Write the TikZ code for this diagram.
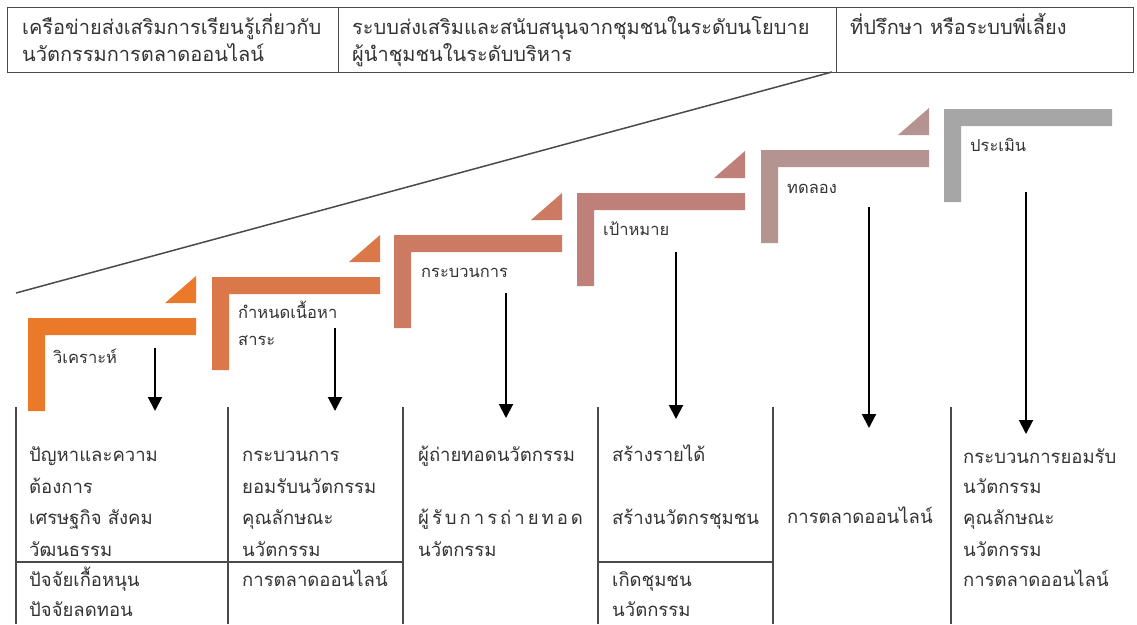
\documentclass[tikz,border=0pt]{standalone}
\usepackage{fontspec}
\newfontfamily\thai[Script=Thai]{Loma}
\usetikzlibrary{arrows.meta}
\definecolor{sA}{HTML}{EA7A2A}
\definecolor{sB}{HTML}{DB784A}
\definecolor{sC}{HTML}{CC7A62}
\definecolor{sD}{HTML}{BE8078}
\definecolor{sE}{HTML}{B59391}
\definecolor{sF}{HTML}{A6A6A6}
\definecolor{rule}{HTML}{4A4A4A}
\definecolor{ink}{HTML}{333333}
\newcommand{\Lstep}[3]{% left, top, colour
  \fill[#3] (#1,#2) -- ++(168,0) -- ++(0,17) -- ++(-151,0) -- ++(0,76) -- ++(-17,0) -- cycle;}
\newcommand{\Ltri}[3]{%
  \fill[#3] (#1+168,#2-15) -- ++(-31,0) -- ++(31,-27) -- cycle;}
\newcommand{\tsp}{\hspace{3.0pt}}
\begin{document}
\begin{tikzpicture}[x=1pt,y=-1pt,
  hcell/.style={draw=rule, line width=1.4pt, anchor=north west, inner sep=0pt},
  htext/.style={anchor=base west, inner sep=0pt, text=ink, font=\thai\fontsize{20}{27}\selectfont},
  slabel/.style={anchor=base west, inner sep=0pt, text=ink, font=\thai\fontsize{16.5}{27}\selectfont},
  ctext/.style={anchor=base west, inner sep=0pt, text=ink, font=\thai\fontsize{18.5}{31}\selectfont},
  arr/.style={line width=2pt, -{Triangle[width=14pt,length=14pt]}},
  col/.style={draw=rule, line width=1.3pt}]
\useasboundingbox[fill=white] (0,0) rectangle (1137,624);

% header
\node[hcell, minimum width=331pt, minimum height=65pt] (h1) at (7,7) {};
\node[hcell, minimum width=498pt, minimum height=65pt] (h2) at (338,7) {};
\node[hcell, minimum width=297pt, minimum height=65pt] (h3) at (836,7) {};
\node[htext] (t1a) at (22,34) {เครือข่ายส่งเสริมการเรียนรู้เกี่ยวกับ};
\node[htext] (t1b) at (22,61) {นวัตกรรมการตลาดออนไลน์};
\node[htext] (t2a) at (352,34) {ระบบส่งเสริมและสนับสนุนจากชุมชนในระดับนโยบาย};
\node[htext] (t2b) at (352,61) {ผู้นำชุมชนในระดับบริหาร};
\node[htext] (t3a) at (850,34) {ที่ปรึกษา หรือระบบพี่เลี้ยง};

% long diagonal line
\coordinate (d0) at (16,293);
\coordinate (d1) at (832,72);
\draw[draw=rule, line width=1.5pt] (d0) -- (d1);

% steps
\Ltri{28}{318}{sA}\Lstep{28}{318}{sA}
\Ltri{212}{277}{sB}\Lstep{212}{277}{sB}
\Ltri{394}{235}{sC}\Lstep{394}{235}{sC}
\Ltri{577}{193}{sD}\Lstep{577}{193}{sD}
\Ltri{761}{150}{sE}\Lstep{761}{150}{sE}
\Lstep{944}{109}{sF}

\node[slabel] (s1) at (53,363) {วิเคราะห์};
\node[slabel] (s2a) at (238,318) {กำหนดเนื้อหา};
\node[slabel] (s2b) at (238,345) {สาระ};
\node[slabel] (s3) at (421,277) {กระบวนการ};
\node[slabel] (s4) at (603,235) {เป้าหมาย};
\node[slabel] (s5) at (787,193) {ทดลอง};
\node[slabel] (s6) at (970,151) {ประเมิน};

% arrows
\coordinate (a1s) at (155,348); \coordinate (a1e) at (155,411);
\coordinate (a2s) at (335,328); \coordinate (a2e) at (335,411);
\coordinate (a3s) at (506,293); \coordinate (a3e) at (506,418);
\coordinate (a4s) at (676,252); \coordinate (a4e) at (676,419);
\coordinate (a5s) at (869,207); \coordinate (a5e) at (869,428);
\coordinate (a6s) at (1026,192); \coordinate (a6e) at (1026,434);
\foreach \i in {1,...,6} {\draw[arr] (a\i s) -- (a\i e);}

% columns
\foreach \x in {16,228,403,598,773,951} {\draw[col] (\x,407) -- (\x,624);}
\draw[col] (16,562) -- (403,562);
\draw[col] (598,562) -- (773,562);

% column texts
\node[ctext] (c1a) at (29,461) {ปัญหาและความ};
\node[ctext] (c1b) at (29,493) {ต้องการ};
\node[ctext] (c1c) at (29,524) {เศรษฐกิจ สังคม};
\node[ctext] (c1d) at (29,556) {วัฒนธรรม};
\node[ctext] (c1e) at (29,586) {ปัจจัยเกื้อหนุน};
\node[ctext] (c1f) at (29,616) {ปัจจัยลดทอน};

\node[ctext] (c2a) at (242,461) {กระบวนการ};
\node[ctext] (c2b) at (242,493) {ยอมรับนวัตกรรม};
\node[ctext] (c2c) at (242,524) {คุณลักษณะ};
\node[ctext] (c2d) at (242,556) {นวัตกรรม};
\node[ctext] (c2e) at (242,586) {การตลาดออนไลน์};

\node[ctext] (c3a) at (418,461) {ผู้ถ่ายทอดนวัตกรรม};
\node[ctext] (c3b) at (418,524) {ผู้\tsp รั\tsp บ\tsp ก\tsp า\tsp ร\tsp ถ่\tsp า\tsp ย\tsp ท\tsp อ\tsp ด};
\node[ctext] (c3c) at (418,556) {นวัตกรรม};

\node[ctext] (c4a) at (612,461) {สร้างรายได้};
\node[ctext] (c4b) at (612,524) {สร้างนวัตกรชุมชน};
\node[ctext] (c4c) at (612,586) {เกิดชุมชน};
\node[ctext] (c4d) at (612,616) {นวัตกรรม};

\node[ctext] (c5a) at (787,523) {การตลาดออนไลน์};

\node[ctext] (c6a) at (963,463) {กระบวนการยอมรับ};
\node[ctext] (c6b) at (963,493) {นวัตกรรม};
\node[ctext] (c6c) at (963,524) {คุณลักษณะ};
\node[ctext] (c6d) at (963,556) {นวัตกรรม};
\node[ctext] (c6e) at (963,586) {การตลาดออนไลน์};
\end{tikzpicture}
\end{document}
